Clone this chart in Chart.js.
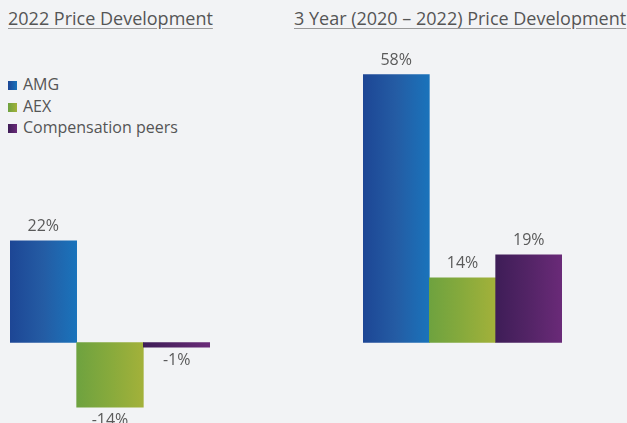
<!DOCTYPE html>
<html>
<head>
<meta charset="utf-8">
<script src="https://cdn.jsdelivr.net/npm/chart.js@4"></script>
<style>
  html, body { margin: 0; padding: 0; background: #f2f3f5; }
  body { width: 627px; height: 423px; position: relative; overflow: hidden; font-family: "Open Sans", sans-serif; color: #555; }
  .title { position: absolute; top: 6px; font-size: 18px; white-space: nowrap; text-decoration: underline; text-decoration-color: #999; text-underline-offset: 3px; }
  #legend { position: absolute; left: 8px; top: 74px; font-size: 16px; }
  #legend div { height: 21.5px; line-height: 21.5px; white-space: nowrap; }
  #legend span { display: inline-block; width: 9px; height: 9px; margin-right: 6px; vertical-align: 0px; }
  canvas { position: absolute; top: 0; }
</style>
</head>
<body>
<div class="title" style="left:8px">2022 Price Development</div>
<div class="title" style="left:294px">3 Year (2020 – 2022) Price Development</div>
<div id="legend"></div>
<div style="position:absolute;left:10px;top:0;width:200px;height:423px"><canvas id="c1"></canvas></div>
<div style="position:absolute;left:363px;top:0;width:199px;height:423px"><canvas id="c2"></canvas></div>
<script>
const categories = ['AMG', 'AEX', 'Compensation peers'];
const price2022 = [22, -14, -1];
const price3Year = [58, 14, 19];
const gradStops = [
  ['#1d4695', '#245ca4', '#1a73bb'],
  ['#6ea23f', '#87aa3c', '#a3b13a'],
  ['#3e1d57', '#532466', '#6a2a78']
];

// legend (html)
const legend = document.getElementById('legend');
categories.forEach((c, i) => {
  const row = document.createElement('div');
  row.innerHTML = `<span style="background:linear-gradient(to right, ${gradStops[i][0]}, ${gradStops[i][2]})"></span>${c}`;
  legend.appendChild(row);
});

// gradient fill + value labels
const barStyle = {
  id: 'barStyle',
  beforeDatasetsDraw(chart) {
    const ctx = chart.ctx;
    chart.getDatasetMeta(0).data.forEach((bar, i) => {
      const g = ctx.createLinearGradient(bar.x - bar.width / 2, 0, bar.x + bar.width / 2, 0);
      g.addColorStop(0, gradStops[i][0]);
      g.addColorStop(0.5, gradStops[i][1]);
      g.addColorStop(1, gradStops[i][2]);
      bar.options.backgroundColor = g;
    });
  },
  afterDatasetsDraw(chart) {
    const ctx = chart.ctx;
    const vals = chart.data.datasets[0].data;
    ctx.save();
    ctx.font = '16px "Open Sans"';
    ctx.fillStyle = '#5a5a5a';
    ctx.textAlign = 'center';
    ctx.textBaseline = 'middle';
    chart.getDatasetMeta(0).data.forEach((bar, i) => {
      const v = vals[i];
      const y = v >= 0 ? bar.y - 14 : bar.y + 13;
      ctx.fillText(Math.round(v) + '%', bar.x, y);
    });
    ctx.restore();
  }
};

function makeChart(id, values) {
  return new Chart(document.getElementById(id), {
    type: 'bar',
    data: {
      labels: categories,
      datasets: [{
        data: values,
        backgroundColor: gradStops.map(s => s[0]),
        borderWidth: 0,
        barPercentage: 1,
        categoryPercentage: 1
      }]
    },
    options: {
      responsive: true,
      maintainAspectRatio: false,
      animation: false,
      layout: { padding: 0 },
      plugins: { legend: { display: false }, tooltip: { enabled: false } },
      scales: {
        x: { display: false },
        y: { display: false, min: -17.42, max: 74.13 }
      }
    },
    plugins: [barStyle]
  });
}

makeChart('c1', price2022);
makeChart('c2', price3Year);
</script>
</body>
</html>
